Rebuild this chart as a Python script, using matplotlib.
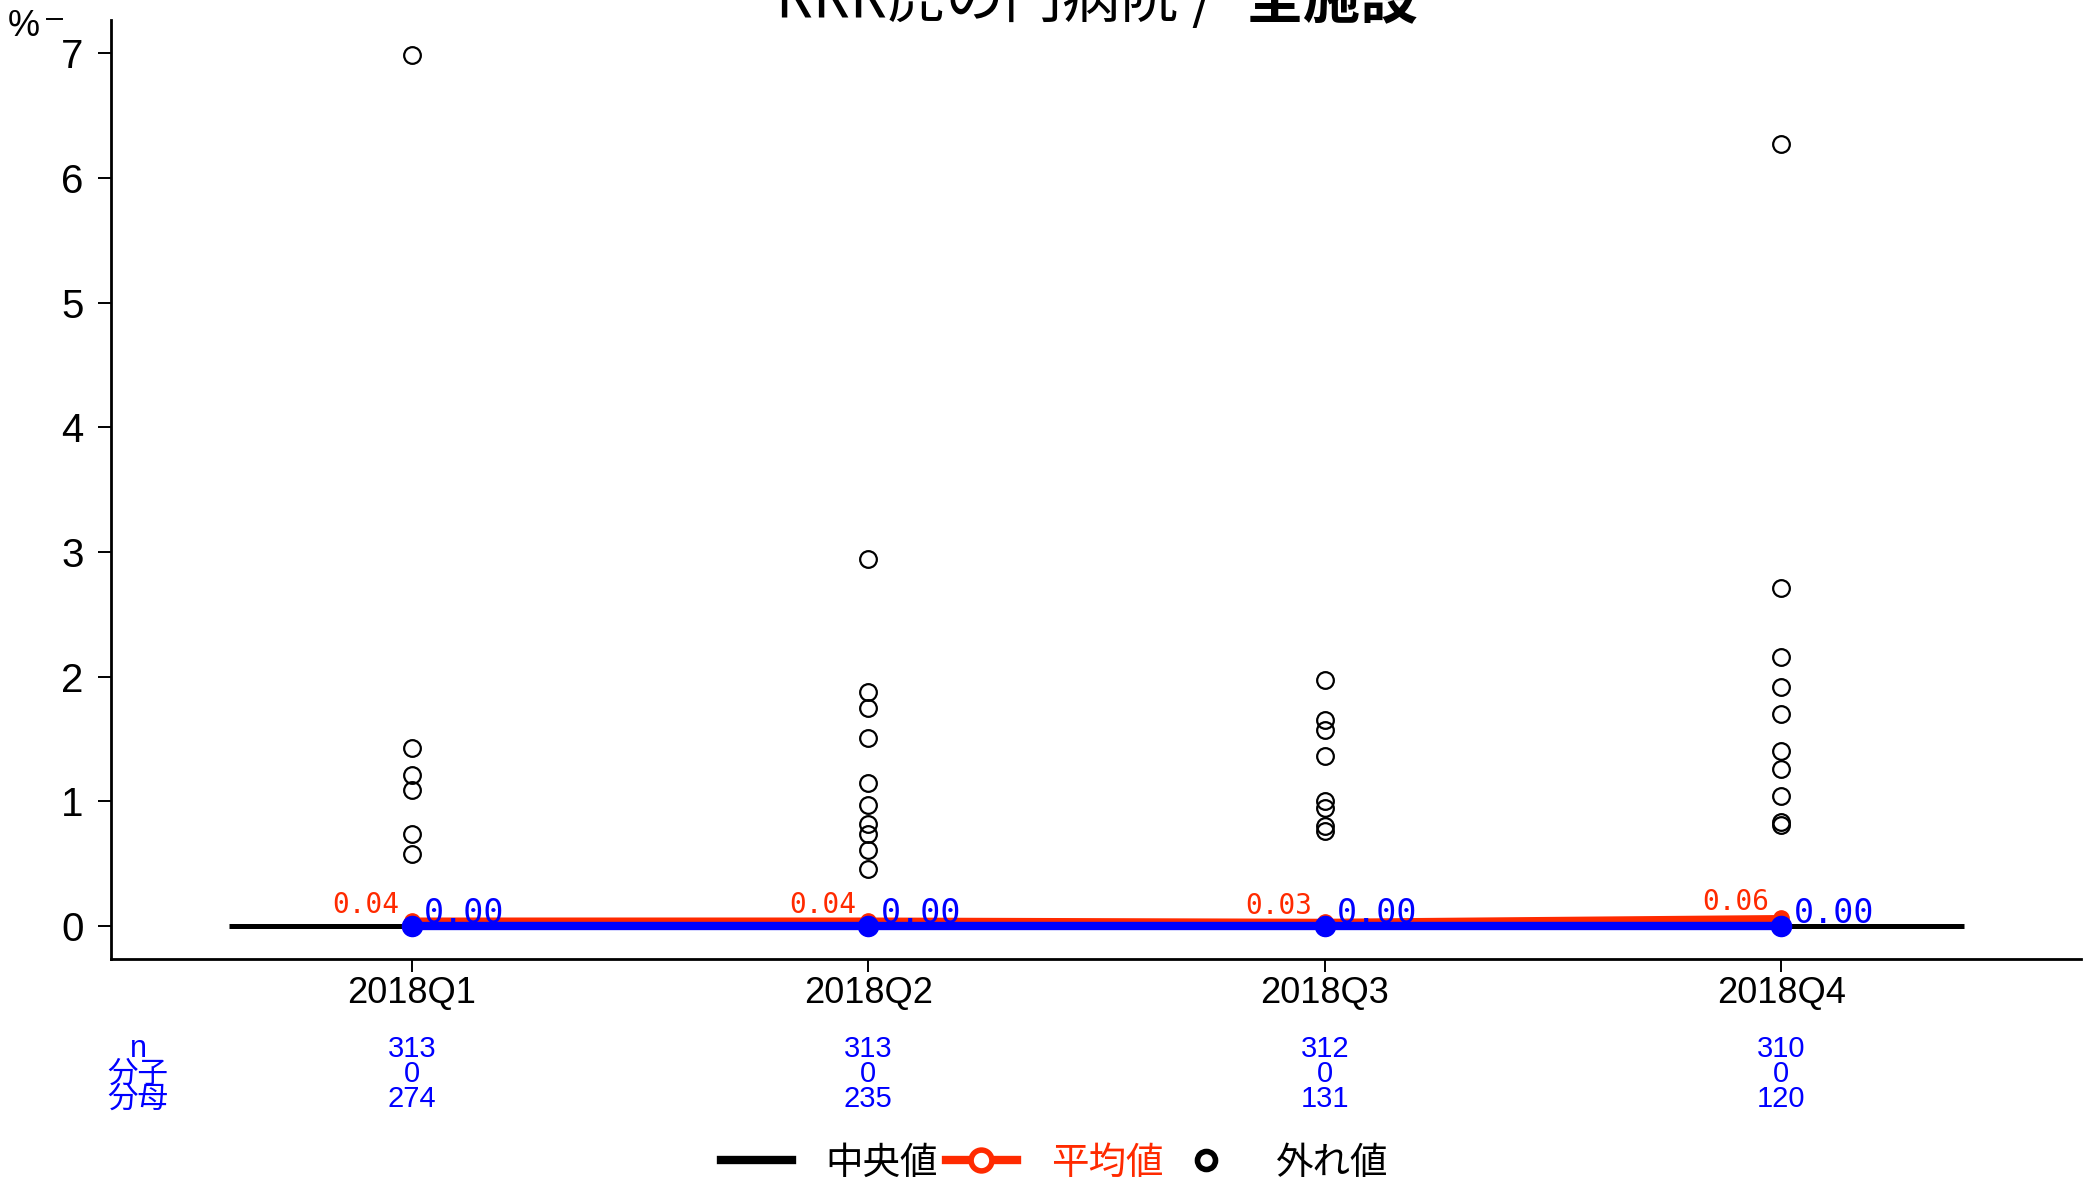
import matplotlib
matplotlib.use("Agg")
import matplotlib.pyplot as plt
from matplotlib.lines import Line2D
from matplotlib.transforms import blended_transform_factory

# --- Data ---
quarters = ["2018Q1", "2018Q2", "2018Q3", "2018Q4"]
means = [0.04, 0.04, 0.03, 0.06]
medians = [0.00, 0.00, 0.00, 0.00]
median_all = 0.0
n_vals = [313, 313, 312, 310]
numer = [0, 0, 0, 0]
denom = [274, 235, 131, 120]
outliers_q1 = [6.99, 1.43, 1.21, 1.09, 0.74, 0.58]
outliers_q2 = [2.94, 1.88, 1.75, 1.51, 1.15, 0.97, 0.82, 0.74, 0.61, 0.46]
outliers_q3 = [1.97, 1.65, 1.57, 1.36, 1.00, 0.95, 0.80, 0.76]
outliers_q4 = [6.27, 2.71, 2.16, 1.92, 1.70, 1.40, 1.26, 1.04, 0.83, 0.81]
row_labels = ["n", "分子", "分母"]

RED = "#ff2a00"
BLUE = "#0000ff"
SANS = ["Liberation Sans", "Noto Sans CJK JP"]
CJK = ["Noto Sans CJK JP", "DejaVu Sans"]

plt.rcParams["font.family"] = SANS

fig = plt.figure(figsize=(20.89, 11.8), dpi=100)
fig.patch.set_facecolor("white")
ax = fig.add_axes([0.0529, 0.1873, 0.9433, 0.7957])

x = list(range(1, len(quarters) + 1))

# overall median line
ax.hlines(median_all, x[0] - 0.4, x[-1] + 0.4, color="black", lw=3.6, zorder=2)
# mean line
ax.plot(x, means, color=RED, lw=5, marker="o", ms=11, zorder=3)
# median per quarter
ax.plot(x, medians, color=BLUE, lw=6, marker="o", ms=14.5, zorder=4)

for xi, vals in zip(x, [outliers_q1, outliers_q2, outliers_q3, outliers_q4]):
    ax.plot([xi] * len(vals), vals, ls="none", marker="o", ms=12,
            mfc="none", mec="black", mew=1.6, zorder=5)

for xi, m, md in zip(x, means, medians):
    ax.annotate(f"{m:.2f}", (xi, m), xytext=(-9, 6), textcoords="offset points",
                ha="right", va="baseline", color=RED, fontsize=20,
                family="DejaVu Sans Mono")
    ax.annotate(f"{md:.2f}", (xi, md), xytext=(9, 2), textcoords="offset points",
                ha="left", va="baseline", color=BLUE, fontsize=24,
                family="DejaVu Sans Mono")

ax.set_xlim(0.34, 4.6565)
ax.set_ylim(-0.265, 7.267)
ax.set_xticks(x)
ax.set_xticklabels(quarters)
ax.set_yticks(range(0, 8))
ax.tick_params(axis="y", length=9.4, width=1.4, pad=10, labelsize=29)
ax.tick_params(axis="x", length=9.4, width=1.4, pad=3, labelsize=26)
for s in ["top", "right"]:
    ax.spines[s].set_visible(False)
for s in ["left", "bottom"]:
    ax.spines[s].set_linewidth(2)

# "%" unit mark at top left
fig.text(24 / 2089, 1 - 26 / 1180, "%", ha="center", va="center", fontsize=26)
fig.add_artist(Line2D([47 / 2089, 62 / 2089], [1 - 19 / 1180, 1 - 19 / 1180],
                      color="black", lw=1.4))

# title (cut at top edge like the reference)
fig.text(1215 / 2089, 1 - 17 / 1180, "RRR虎の門病院 /", ha="right", va="baseline",
         fontsize=42, family=CJK)
fig.text(1246 / 2089, 1 - 17 / 1180, "全施設", ha="left", va="baseline",
         fontsize=41.5, family=CJK, fontweight="bold")

# counts table under the axis
tr = blended_transform_factory(ax.transData, fig.transFigure)
row_y = [1 - 1049 / 1180, 1 - 1074 / 1180, 1 - 1099 / 1180]
for ry, lab, vals in zip(row_y, row_labels, [n_vals, numer, denom]):
    fig.text(138 / 2089, ry, lab, ha="center", va="center", color=BLUE,
             fontsize=22, family=CJK if lab != "n" else SANS)
    for xi, v in zip(x, vals):
        ax.text(xi, ry, str(v), transform=tr, ha="center", va="center",
                color=BLUE, fontsize=21)

# legend
handles = [
    Line2D([], [], color="black", lw=6),
    Line2D([], [], color=RED, lw=6, marker="o", ms=15, mfc="white", mec=RED, mew=4),
    Line2D([], [], ls="none", marker="o", ms=13, mfc="none", mec="black", mew=4),
]
leg = fig.legend(handles, ["中央値", "平均値", "外れ値"], loc="center",
                 bbox_to_anchor=(0.5048, 0.0144), ncol=3, frameon=False,
                 handlelength=1.9, handletextpad=0.9, columnspacing=0.2,
                 prop={"family": "Noto Sans CJK JP", "size": 27})
leg.get_texts()[1].set_color(RED)

fig.savefig("out.png", dpi=100, facecolor="white")
